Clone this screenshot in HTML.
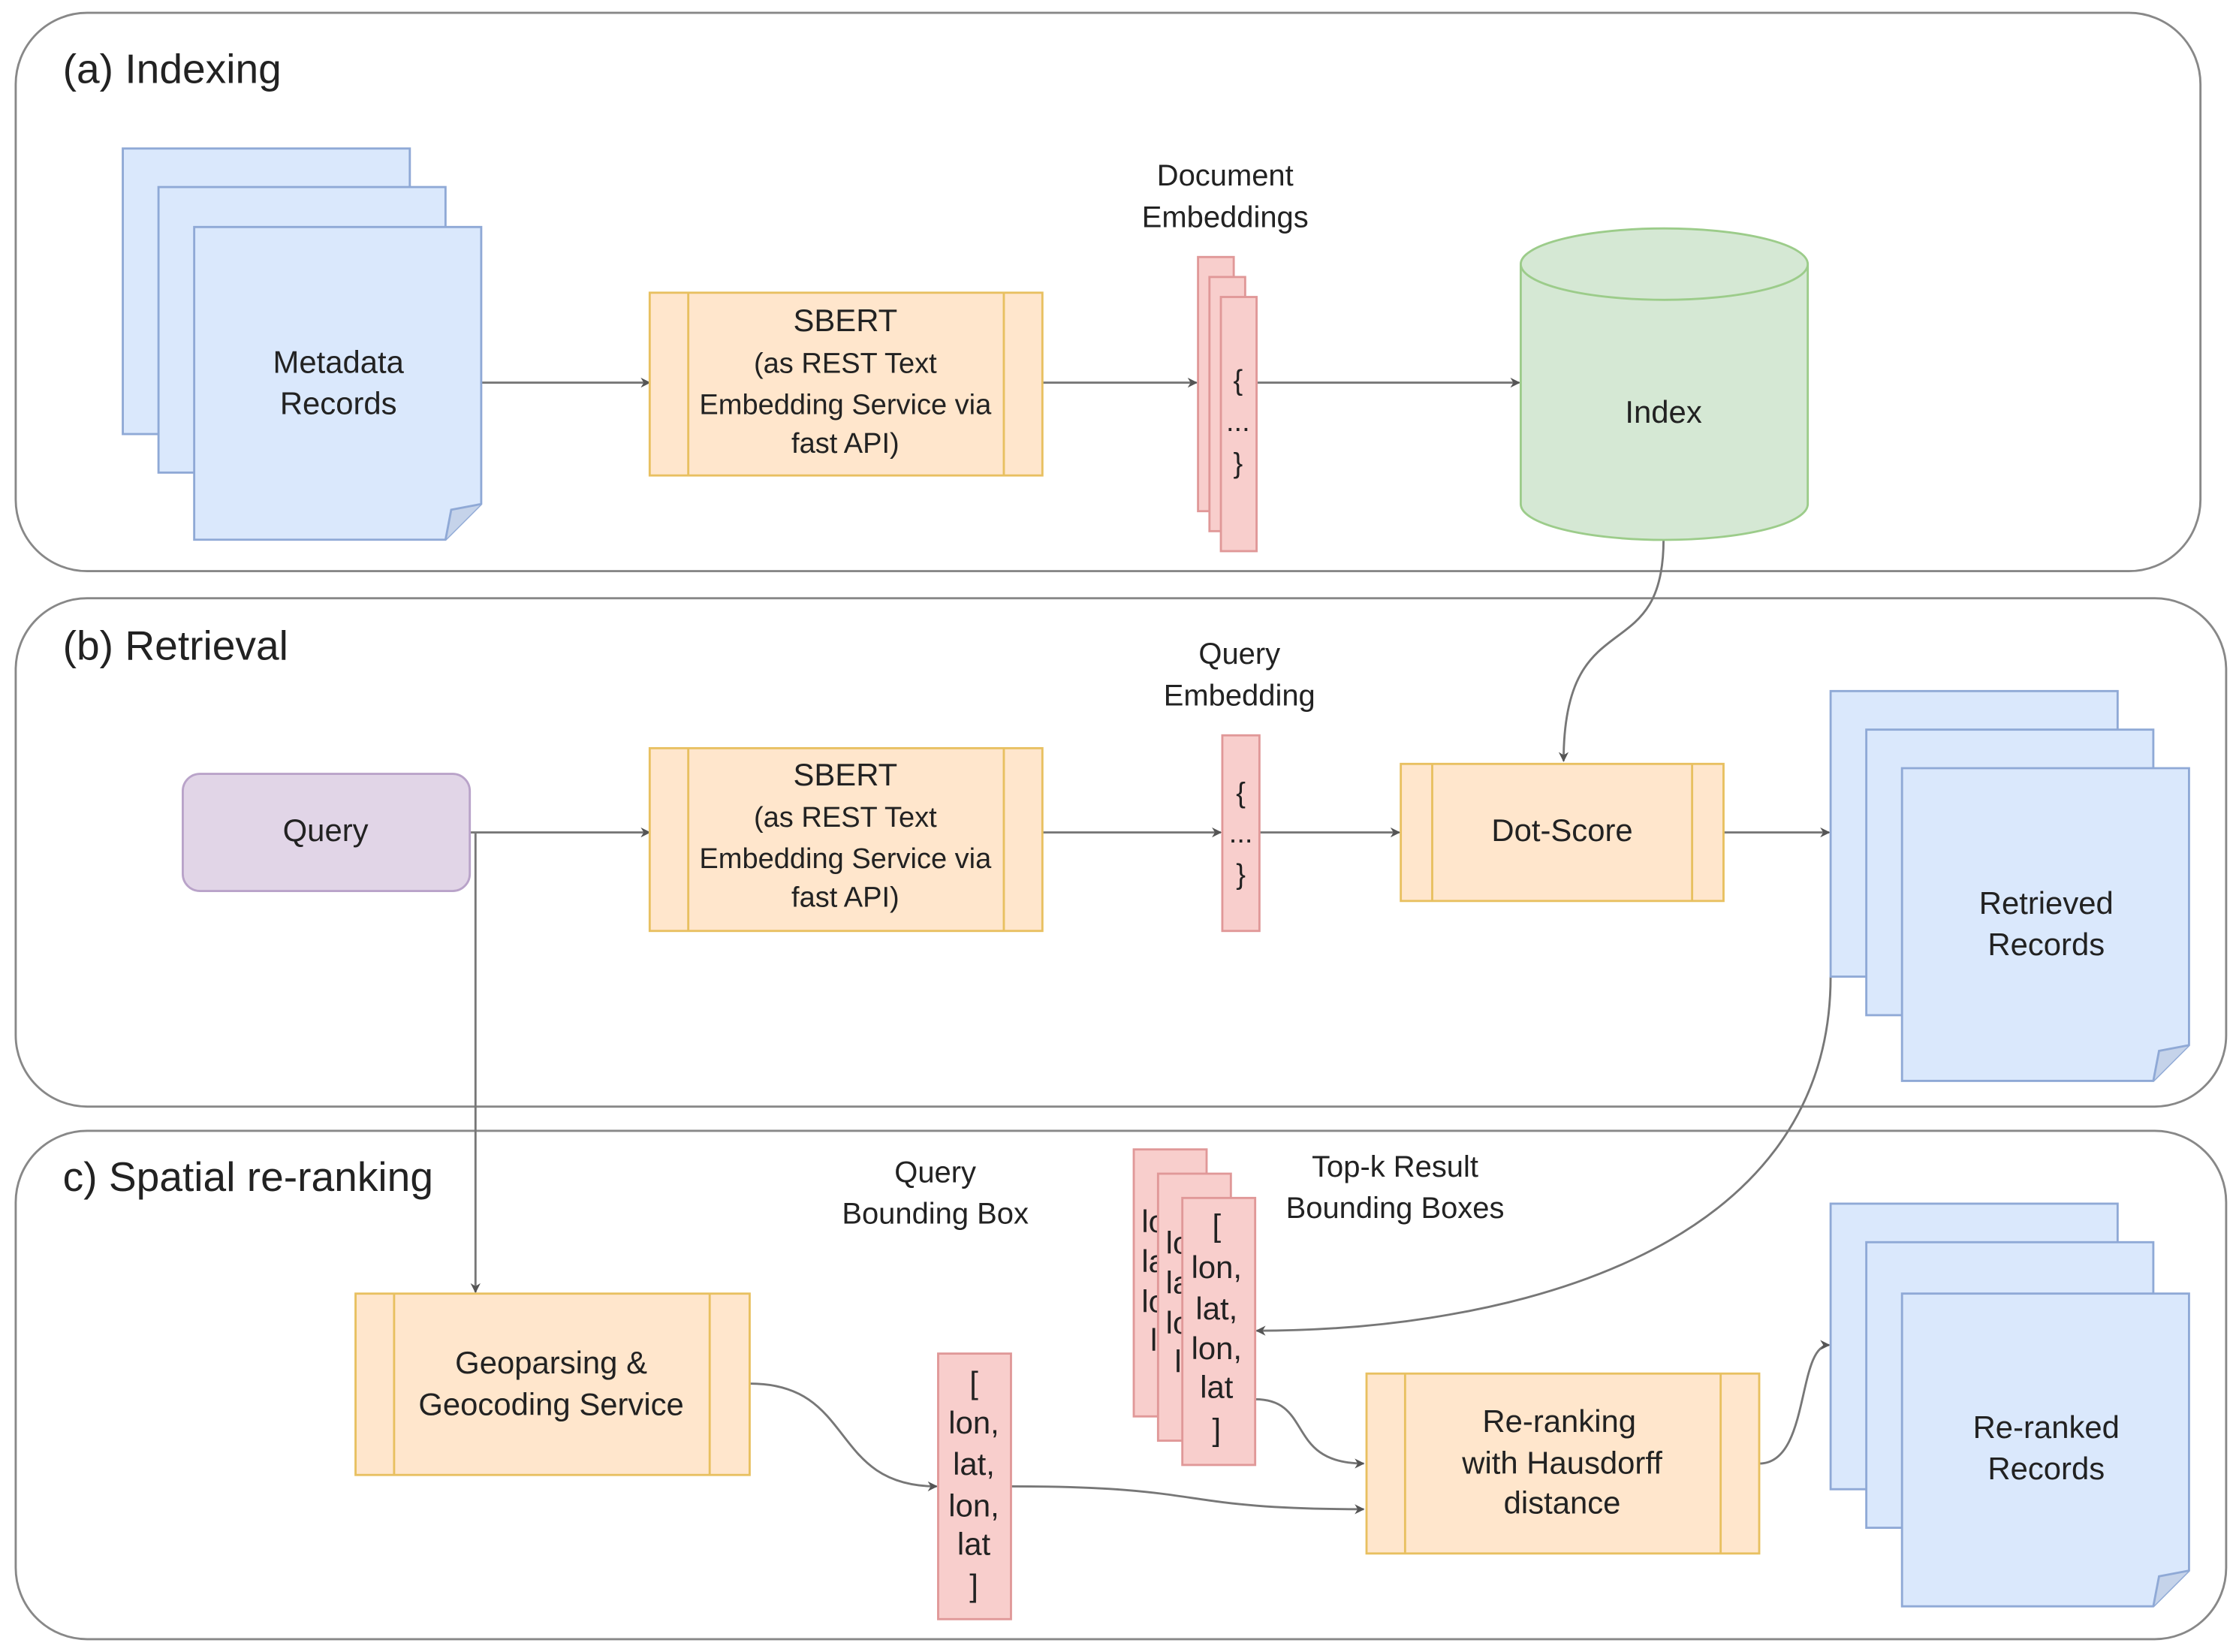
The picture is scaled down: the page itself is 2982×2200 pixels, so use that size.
<!DOCTYPE html>
<html><head><meta charset="utf-8"><style>
html,body{margin:0;padding:0;background:#fff;}
svg{display:block;}
text{font-family:"Liberation Sans",sans-serif;fill:#222;text-anchor:middle;}
</style></head><body>
<svg width="2982" height="2200" viewBox="0 0 1568 1157" preserveAspectRatio="none" xmlns="http://www.w3.org/2000/svg">
<defs>
<marker id="ar" viewBox="0 0 10 10" refX="9" refY="5" markerWidth="7" markerHeight="7" orient="auto" markerUnits="userSpaceOnUse">
<path d="M0,0 L10,5 L0,10 L3,5 z" fill="#555"/>
</marker>
</defs>
<g fill="none" stroke="#888" stroke-width="1.5">
<rect x="11" y="9" width="1530" height="391" rx="50"/>
<rect x="11" y="419" width="1548" height="356" rx="50"/>
<rect x="11" y="792" width="1548" height="356" rx="50"/>
</g>
<g style="font-size:29px;text-anchor:start">
<text x="44" y="58" style="text-anchor:start">(a) Indexing</text>
<text x="44" y="462" style="text-anchor:start">(b) Retrieval</text>
<text x="44" y="834" style="text-anchor:start">c) Spatial re-ranking</text>
</g>

<!-- connectors -->
<g fill="none" stroke="#777" stroke-width="1.5" marker-end="url(#ar)">
<path d="M337,268 L455,268"/>
<path d="M730,268 L838,268"/>
<path d="M880,268 L1064,268"/>
<path d="M1165,378 C1165,470 1095,420 1095,533"/>
<path d="M329,583 L455,583"/>
<path d="M730,583 L855,583"/>
<path d="M882,583 L980,583"/>
<path d="M1207,583 L1281,583"/>
<path d="M333,583 L333,905"/>
<path d="M1282,684 C1282,880 1050,932 880,932"/>
<path d="M525,969 C600,969 580,1041 656,1041"/>
<path d="M708,1041 C850,1041 820,1057 955,1057"/>
<path d="M879,980 C920,980 900,1025 955,1025"/>
<path d="M1232,1025 C1268,1025 1258,942 1281,942"/>
</g>

<!-- Metadata records -->
<g fill="#dae8fc" stroke="#8fa9d6" stroke-width="1.5">
<rect x="86" y="104" width="201" height="200"/>
<rect x="111" y="131" width="201" height="200"/>
<path d="M136,159 L337,159 L337,353 L312,378 L136,378 z"/>
<path d="M312,378 L316,357 L337,353" fill="#c5d3ea"/>
</g>
<text x="237" y="261" style="font-size:22px">Metadata</text>
<text x="237" y="290" style="font-size:22px">Records</text>

<!-- SBERT a -->
<g fill="#ffe6cc" stroke="#e8c060" stroke-width="1.5">
<rect x="455" y="205" width="275" height="128"/>
<line x1="482" y1="205" x2="482" y2="333"/><line x1="703" y1="205" x2="703" y2="333"/>
</g>
<g style="font-size:20px">
<text x="592" y="232" style="font-size:22px">SBERT</text>
<text x="592" y="261">(as REST Text</text>
<text x="592" y="290">Embedding Service via</text>
<text x="592" y="317">fast API)</text>
</g>

<!-- doc embeddings -->
<text x="858" y="130" style="font-size:21px">Document</text>
<text x="858" y="159" style="font-size:21px">Embeddings</text>
<g fill="#f8cecc" stroke="#e09898" stroke-width="1.5">
<rect x="839" y="180" width="25" height="178"/>
<rect x="847" y="194" width="25" height="178"/>
<rect x="855" y="208" width="25" height="178"/>
</g>
<g style="font-size:20px"><text x="867" y="273">{</text><text x="867" y="302">...</text><text x="867" y="331">}</text></g>

<!-- Index -->
<path d="M1065,185 L1065,353 A100,25 0 0 0 1266,353 L1266,185" fill="#d5e8d4" stroke="#9ccc8a" stroke-width="1.5"/>
<ellipse cx="1165.5" cy="185" rx="100.5" ry="25" fill="#d5e8d4" stroke="#9ccc8a" stroke-width="1.5"/>
<text x="1165" y="296" style="font-size:22px">Index</text>

<!-- Query -->
<rect x="128" y="542" width="201" height="82" rx="12" fill="#e1d5e7" stroke="#b9a3c9" stroke-width="1.5"/>
<text x="228" y="589" style="font-size:22px">Query</text>

<!-- SBERT b -->
<g fill="#ffe6cc" stroke="#e8c060" stroke-width="1.5">
<rect x="455" y="524" width="275" height="128"/>
<line x1="482" y1="524" x2="482" y2="652"/><line x1="703" y1="524" x2="703" y2="652"/>
</g>
<g style="font-size:20px">
<text x="592" y="550" style="font-size:22px">SBERT</text>
<text x="592" y="579">(as REST Text</text>
<text x="592" y="608">Embedding Service via</text>
<text x="592" y="635">fast API)</text>
</g>

<text x="868" y="465" style="font-size:21px">Query</text>
<text x="868" y="494" style="font-size:21px">Embedding</text>
<rect x="856" y="515" width="26" height="137" fill="#f8cecc" stroke="#e09898" stroke-width="1.5"/>
<g style="font-size:20px"><text x="869" y="562">{</text><text x="869" y="590">...</text><text x="869" y="619">}</text></g>

<!-- Dot score -->
<g fill="#ffe6cc" stroke="#e8c060" stroke-width="1.5">
<rect x="981" y="535" width="226" height="96"/>
<line x1="1003" y1="535" x2="1003" y2="631"/><line x1="1185" y1="535" x2="1185" y2="631"/>
</g>
<text x="1094" y="589" style="font-size:22px">Dot-Score</text>

<!-- Retrieved records -->
<g fill="#dae8fc" stroke="#8fa9d6" stroke-width="1.5">
<rect x="1282" y="484" width="201" height="200"/>
<rect x="1307" y="511" width="201" height="200"/>
<path d="M1332,538 L1533,538 L1533,732 L1508,757 L1332,757 z"/>
<path d="M1508,757 L1512,736 L1533,732" fill="#c5d3ea"/>
</g>
<text x="1433" y="640" style="font-size:22px">Retrieved</text>
<text x="1433" y="669" style="font-size:22px">Records</text>

<!-- Geoparsing -->
<g fill="#ffe6cc" stroke="#e8c060" stroke-width="1.5">
<rect x="249" y="906" width="276" height="127"/>
<line x1="276" y1="906" x2="276" y2="1033"/><line x1="497" y1="906" x2="497" y2="1033"/>
</g>
<text x="386" y="962" style="font-size:22px">Geoparsing &amp;</text>
<text x="386" y="991" style="font-size:22px">Geocoding Service</text>

<text x="655" y="828" style="font-size:21px">Query</text>
<text x="655" y="857" style="font-size:21px">Bounding Box</text>
<rect x="657" y="948" width="51" height="186" fill="#f8cecc" stroke="#e09898" stroke-width="1.5"/>
<g style="font-size:22px">
<text x="682" y="976">[</text><text x="682" y="1004">lon,</text><text x="682" y="1033">lat,</text><text x="682" y="1062">lon,</text><text x="682" y="1089">lat</text><text x="682" y="1118">]</text>
</g>

<!-- Top-k -->
<text x="977" y="824" style="font-size:21px">Top-k Result</text>
<text x="977" y="853" style="font-size:21px">Bounding Boxes</text>
<g fill="#f8cecc" stroke="#e09898" stroke-width="1.5">
<rect x="794" y="805" width="51" height="187"/>
</g>
<g style="font-size:22px"><text x="808" y="863">lo</text><text x="808" y="891">la</text><text x="808" y="919">lo</text><text x="808" y="946">l</text></g>
<rect x="811" y="822" width="51" height="187" fill="#f8cecc" stroke="#e09898" stroke-width="1.5"/>
<g style="font-size:22px"><text x="825" y="878">lo</text><text x="825" y="906">la</text><text x="825" y="934">lo</text><text x="825" y="961">l</text></g>
<rect x="828" y="839" width="51" height="187" fill="#f8cecc" stroke="#e09898" stroke-width="1.5"/>
<g style="font-size:22px">
<text x="852" y="866">[</text><text x="852" y="895">lon,</text><text x="852" y="924">lat,</text><text x="852" y="952">lon,</text><text x="852" y="979">lat</text><text x="852" y="1009">]</text>
</g>

<!-- Re-ranking -->
<g fill="#ffe6cc" stroke="#e8c060" stroke-width="1.5">
<rect x="957" y="962" width="275" height="126"/>
<line x1="984" y1="962" x2="984" y2="1088"/><line x1="1205" y1="962" x2="1205" y2="1088"/>
</g>
<text x="1092" y="1003" style="font-size:22px">Re-ranking</text>
<text x="1094" y="1032" style="font-size:22px">with Hausdorff</text>
<text x="1094" y="1060" style="font-size:22px">distance</text>

<!-- Re-ranked records -->
<g fill="#dae8fc" stroke="#8fa9d6" stroke-width="1.5">
<rect x="1282" y="843" width="201" height="200"/>
<rect x="1307" y="870" width="201" height="200"/>
<path d="M1332,906 L1533,906 L1533,1100 L1508,1125 L1332,1125 z"/>
<path d="M1508,1125 L1512,1104 L1533,1100" fill="#c5d3ea"/>
</g>
<text x="1433" y="1007" style="font-size:22px">Re-ranked</text>
<text x="1433" y="1036" style="font-size:22px">Records</text>
</svg>
</body></html>
